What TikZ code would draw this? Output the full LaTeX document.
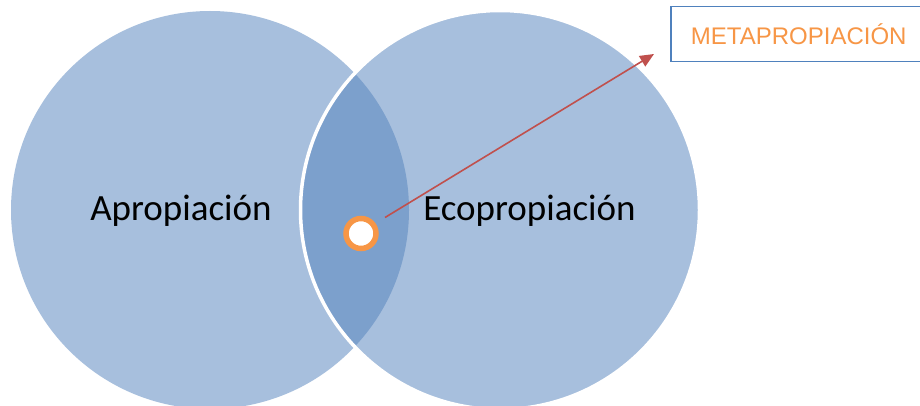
\documentclass[tikz,border=0pt]{standalone}
\usepackage{fontspec}
\setmainfont{Carlito}
\newfontfamily\arialfont{Liberation Sans}
\usetikzlibrary{arrows.meta}
\definecolor{lightblue}{HTML}{A7BFDD}
\definecolor{darkblue}{HTML}{7CA0CC}
\definecolor{ringorange}{HTML}{F79646}
\definecolor{arrowred}{HTML}{C0504D}
\definecolor{boxblue}{HTML}{4F81BD}
\tikzset{
  setcircle/.style={circle, minimum size=398pt, inner sep=0pt, fill=lightblue},
  setlabel/.style={font=\fontsize{37}{40}\selectfont, text=black, inner sep=0pt, anchor=base},
  ringnode/.style={circle, draw=ringorange, line width=5.5pt, fill=white, minimum size=30pt, inner sep=0pt},
  metabox/.style={draw=boxblue, line width=1.5pt, minimum width=260pt, minimum height=55pt, anchor=west, inner sep=0pt,
    font=\arialfont\fontsize{24}{26}\selectfont, text=ringorange, align=center},
  linkarrow/.style={draw=arrowred, line width=1.6pt, -{Triangle[length=14pt,width=12pt]}}
}
\begin{document}
\begin{tikzpicture}[x=1pt,y=-1pt]
\useasboundingbox (0,0) rectangle (920,406);
\clip (0,0) rectangle (920,406);
\fill[white] (0,0) rectangle (920,406);
\node[setcircle] (left) at (210,210) {};
\node[setcircle] (right) at (500,210) {};
\begin{scope}
  \clip (210,210) circle (199);
  \fill[darkblue] (500,210) circle (199);
\end{scope}
\draw[white, line width=3.5pt] (500,210) circle (199.5);
\node[setlabel] (apro) at (181,220) {Apropiación};
\node[setlabel] (eco) at (529.5,220) {Ecopropiación};
\node[ringnode] (ring) at (361,233.5) {};
\node[metabox] (meta) at (670,34) {METAPROPIACIÓN\hspace*{4pt}};
\coordinate (tip) at (654,54);
\draw[linkarrow] (385,217.5) -- (tip);
\end{tikzpicture}
\end{document}
